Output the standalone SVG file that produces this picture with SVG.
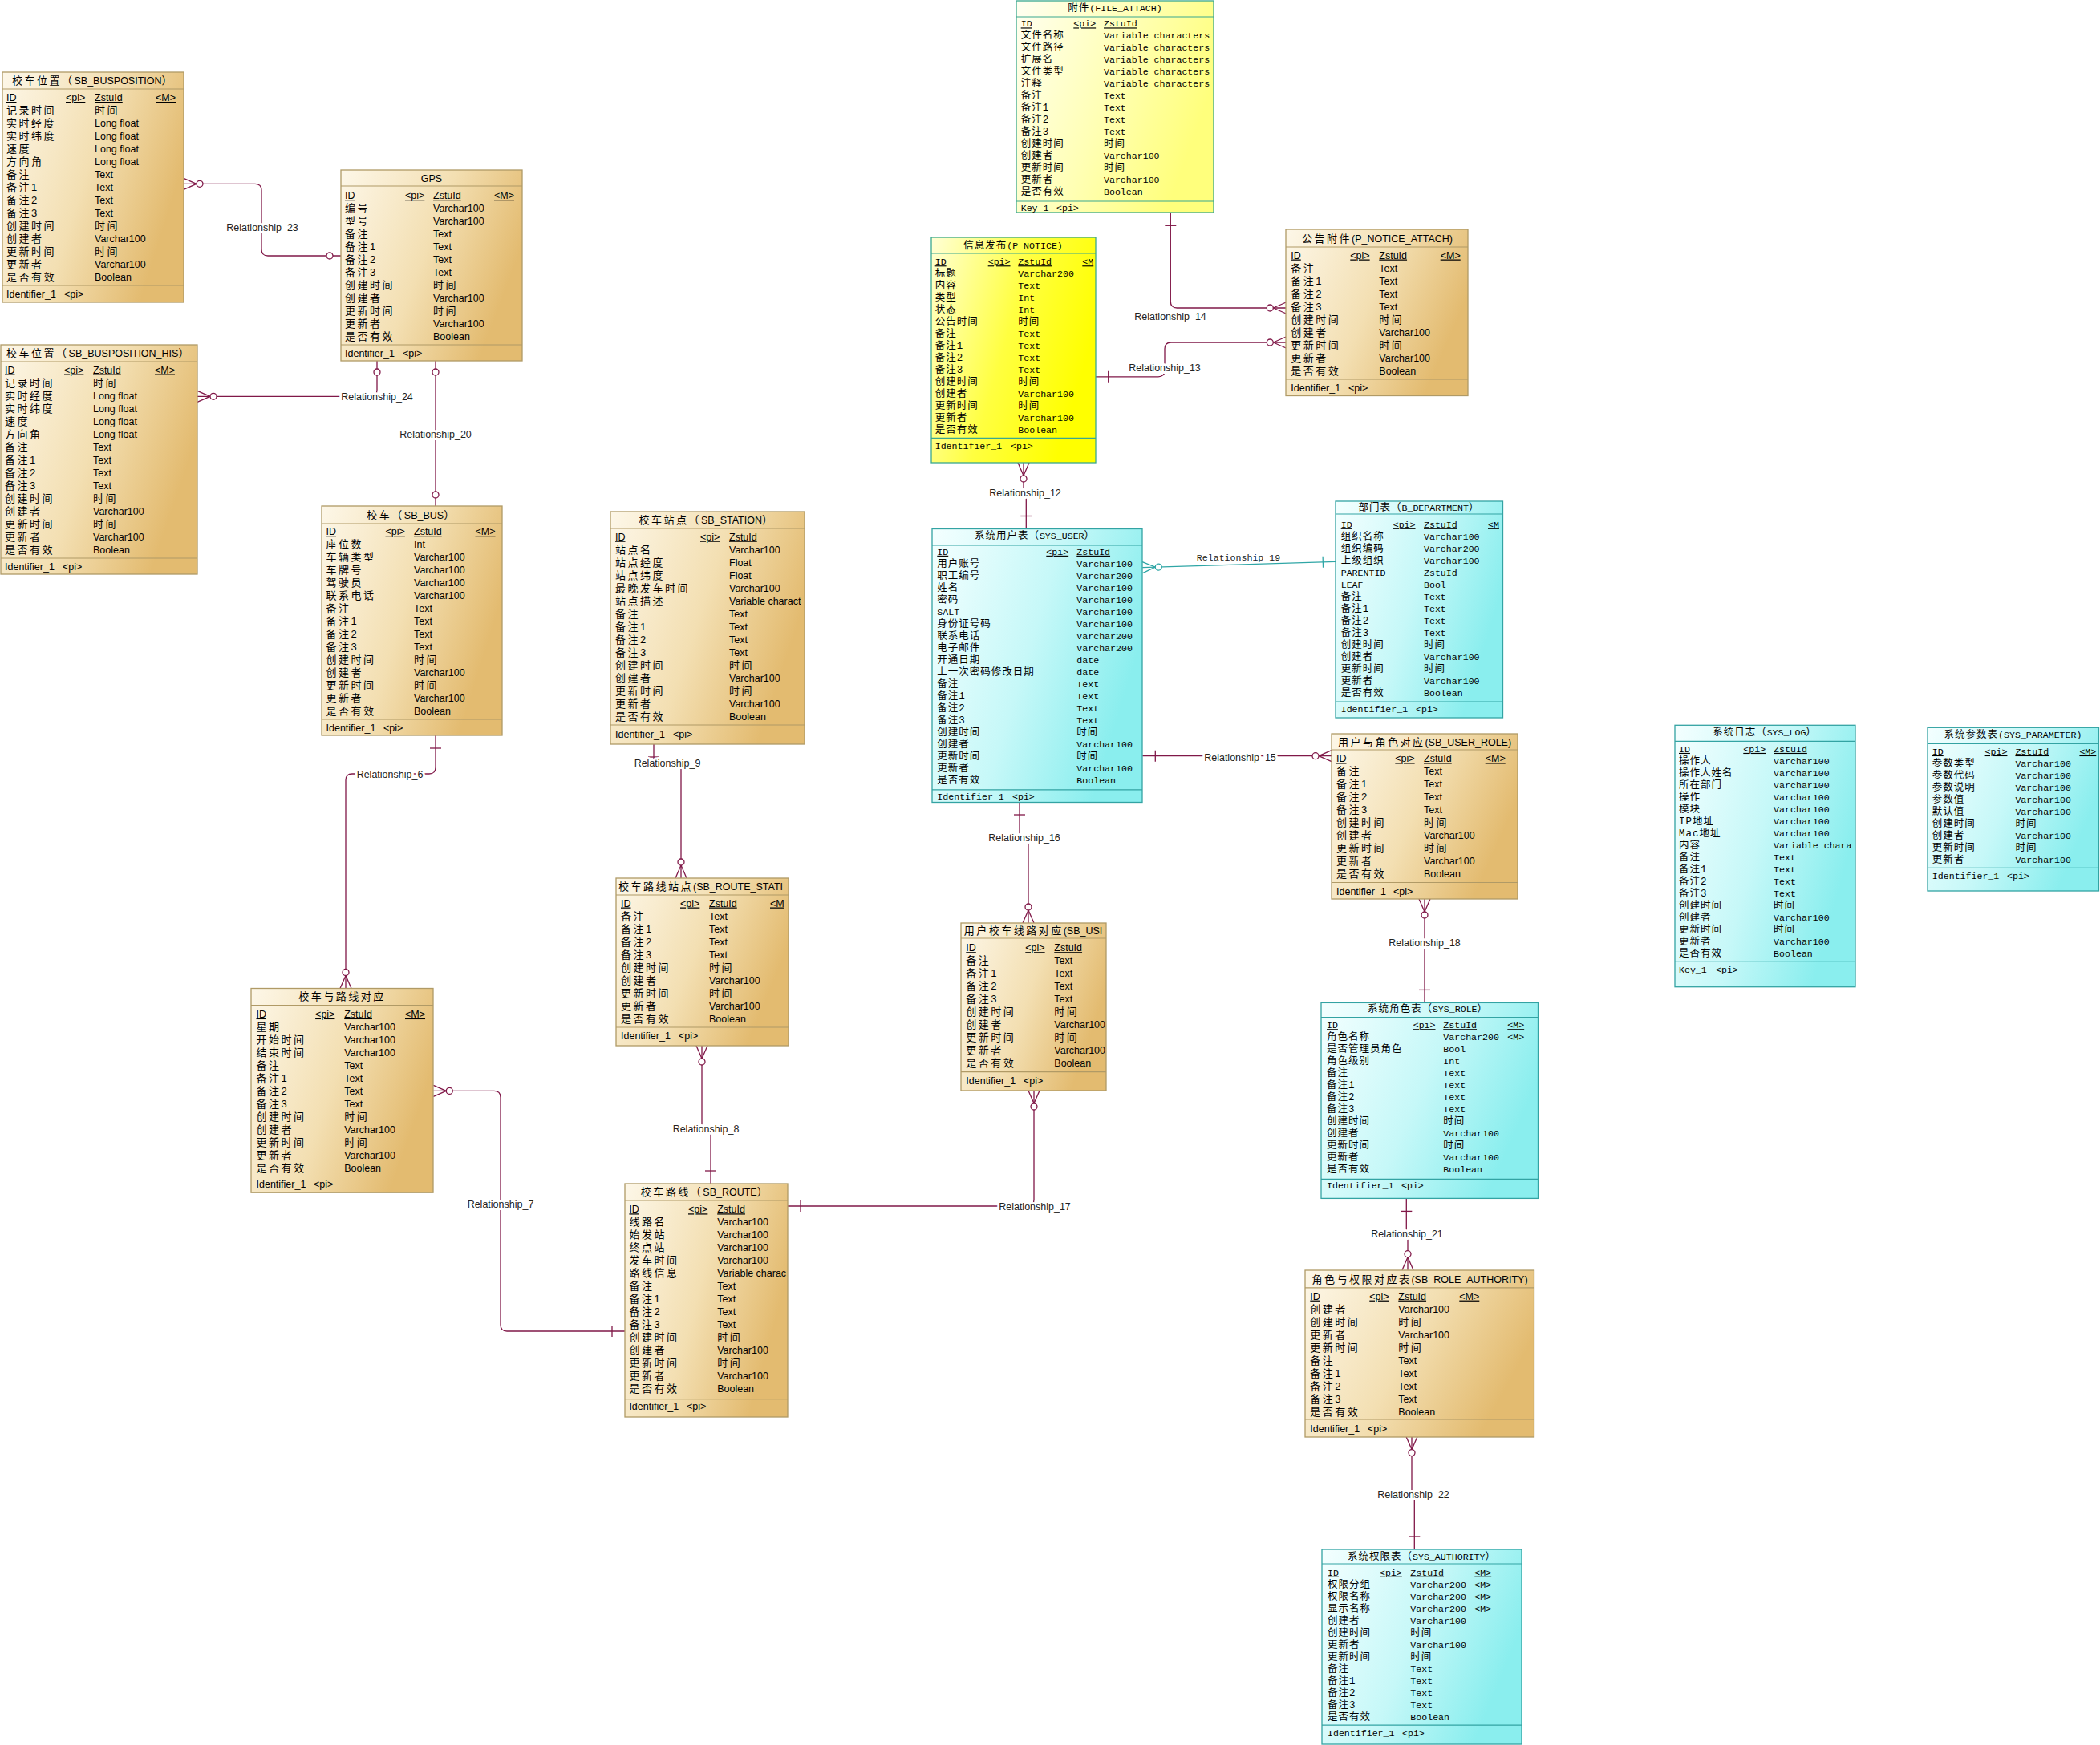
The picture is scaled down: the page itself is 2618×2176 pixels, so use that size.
<svg xmlns="http://www.w3.org/2000/svg" width="2618" height="2176" viewBox="0 0 2618 2176">
<defs>
<style>
.b{font-family:"Liberation Sans","Noto Sans CJK SC",sans-serif;font-size:12.5px;fill:#000}
.m{font-family:"Liberation Mono","Noto Sans CJK SC",monospace;font-size:11.6px;fill:#000}
.b .c{font-size:13px;letter-spacing:2.5px}
.m .c{font-size:12.5px;letter-spacing:1px}
.u{text-decoration:underline}
.tt{text-anchor:middle}
.bx{stroke-width:1.3}
.kb{fill:url(#gb);stroke:#b09a66}
.kc{fill:url(#gc);stroke:#33a3a3}
.ky{fill:url(#gy);stroke:#3aa890}
.kp{fill:url(#gp);stroke:#3aa890}
.sb{fill:none;stroke:#b09a66;stroke-width:1.2}
.sc{fill:none;stroke:#33a3a3;stroke-width:1.2}
.sy{fill:none;stroke:#3aa890;stroke-width:1.2}
.r{fill:none;stroke:#801848;stroke-width:1.3}
.rt{fill:none;stroke:#2fa6a6;stroke-width:1.3}
.rl{font-family:"Liberation Sans",sans-serif;font-size:12.5px;fill:#222;text-anchor:middle;stroke:#fff;stroke-width:6px;stroke-linejoin:round;paint-order:stroke}
.rlm{font-family:"Liberation Mono",monospace;font-size:11.6px;fill:#222;text-anchor:middle}
</style>
<linearGradient id="gb" x1="0" y1="0" x2="1" y2="0.4"><stop offset="0" stop-color="#fdf7e8"/><stop offset="0.55" stop-color="#f3dfb2"/><stop offset="1" stop-color="#e3bb70"/></linearGradient>
<linearGradient id="gc" x1="0" y1="0" x2="1" y2="0.4"><stop offset="0" stop-color="#f4ffff"/><stop offset="0.55" stop-color="#c6f8f8"/><stop offset="1" stop-color="#8aeeee"/></linearGradient>
<linearGradient id="gy" x1="0" y1="0" x2="1" y2="0.4"><stop offset="0" stop-color="#ffffd6"/><stop offset="0.55" stop-color="#ffff40"/><stop offset="1" stop-color="#ffff00"/></linearGradient>
<linearGradient id="gp" x1="0" y1="0" x2="1" y2="0.4"><stop offset="0" stop-color="#fffff2"/><stop offset="0.55" stop-color="#ffffb4"/><stop offset="1" stop-color="#ffff7c"/></linearGradient>
<marker id="mc" viewBox="-30 -10 32 20" refX="0" refY="0" markerWidth="32" markerHeight="20" markerUnits="userSpaceOnUse" orient="auto-start-reverse"><path d="M-16 0L0-7M-16 0L0 7" fill="none" stroke="#801848" stroke-width="1.3"/><circle cx="-20" cy="0" r="4" fill="#fff" stroke="#801848" stroke-width="1.3"/></marker>
<marker id="m1" viewBox="-30 -10 32 20" refX="0" refY="0" markerWidth="32" markerHeight="20" markerUnits="userSpaceOnUse" orient="auto-start-reverse"><path d="M-16-7V7" fill="none" stroke="#801848" stroke-width="1.3"/></marker>
<marker id="m0" viewBox="-30 -10 32 20" refX="0" refY="0" markerWidth="32" markerHeight="20" markerUnits="userSpaceOnUse" orient="auto-start-reverse"><circle cx="-14" cy="0" r="4" fill="#fff" stroke="#801848" stroke-width="1.3"/></marker>
<marker id="mct" viewBox="-30 -10 32 20" refX="0" refY="0" markerWidth="32" markerHeight="20" markerUnits="userSpaceOnUse" orient="auto-start-reverse"><path d="M-16 0L0-7M-16 0L0 7" fill="none" stroke="#2fa6a6" stroke-width="1.3"/><circle cx="-20" cy="0" r="4" fill="#fff" stroke="#2fa6a6" stroke-width="1.3"/></marker>
<marker id="m1t" viewBox="-30 -10 32 20" refX="0" refY="0" markerWidth="32" markerHeight="20" markerUnits="userSpaceOnUse" orient="auto-start-reverse"><path d="M-16-7V7" fill="none" stroke="#2fa6a6" stroke-width="1.3"/></marker>
</defs>
<rect width="2618" height="2176" fill="#fff"/>

<g id="connectors">
<path class="r" marker-start="url(#mc)" marker-end="url(#m0)" d="M229,229.3H318Q326,229.3 326,237.3V311Q326,319 334,319H425"/>
<path class="r" marker-start="url(#mc)" marker-end="url(#m0)" d="M246,494.3H462Q470,494.3 470,486.3V450"/>
<path class="r" marker-start="url(#m0)" marker-end="url(#m0)" d="M543,450V631"/>
<path class="r" marker-start="url(#m1)" marker-end="url(#mc)" d="M543,917V957Q543,965 535,965H439Q431,965 431,973V1232.5"/>
<path class="r" marker-start="url(#mc)" marker-end="url(#m1)" d="M540.3,1360.4H616Q624,1360.4 624,1368.4V1652Q624,1660 632,1660H779"/>
<path class="r" marker-start="url(#mc)" marker-end="url(#m1)" d="M875,1304V1407.7H886V1476"/>
<path class="r" marker-start="url(#m1)" marker-end="url(#mc)" d="M815,928V951H849V1095"/>
<path class="r" marker-start="url(#mc)" marker-end="url(#m1)" d="M1276,577V614.3H1279.3V659.5"/>
<path class="r" marker-start="url(#m1)" marker-end="url(#mc)" d="M1365.7,469.8H1444Q1452,469.8 1452,461.8V435Q1452,427 1460,427H1603.3"/>
<path class="r" marker-start="url(#m1)" marker-end="url(#mc)" d="M1459.3,265.3V376Q1459.3,384 1467.3,384H1603.3"/>
<path class="rt" marker-start="url(#mct)" marker-end="url(#m1t)" d="M1424.3,707.7L1665.3,700.3"/>
<path class="r" marker-start="url(#m1)" marker-end="url(#mc)" d="M1424.3,942.7H1660"/>
<path class="r" marker-start="url(#m1)" marker-end="url(#mc)" d="M1271,1000V1044.5H1282V1151"/>
<path class="r" marker-start="url(#m1)" marker-end="url(#mc)" d="M982,1504H1281Q1289,1504 1289,1496V1360"/>
<path class="r" marker-start="url(#mc)" marker-end="url(#m1)" d="M1776,1121V1250.4"/>
<path class="r" marker-start="url(#m1)" marker-end="url(#mc)" d="M1753.3,1494.4V1538H1755V1583.7"/>
<path class="r" marker-start="url(#mc)" marker-end="url(#m1)" d="M1760,1791.6V1863.3H1763.3V1932"/>
<text class="rl" x="327" y="287.5">Relationship_23</text>
<text class="rl" x="470" y="498.8">Relationship_24</text>
<text class="rl" x="543" y="545.8">Relationship_20</text>
<text class="rl" x="486" y="969.5">Relationship_6</text>
<text class="rl" x="624" y="1505.5">Relationship_7</text>
<text class="rl" x="880" y="1412.2">Relationship_8</text>
<text class="rl" x="832" y="955.5">Relationship_9</text>
<text class="rl" x="1278" y="618.8">Relationship_12</text>
<text class="rl" x="1452" y="463.2">Relationship_13</text>
<text class="rl" x="1459" y="398.9">Relationship_14</text>
<text class="rlm" x="1544" y="699">Relationship_19</text>
<text class="rl" x="1546" y="949">Relationship_15</text>
<text class="rl" x="1277" y="1049">Relationship_16</text>
<text class="rl" x="1290" y="1508.5">Relationship_17</text>
<text class="rl" x="1776" y="1179.7">Relationship_18</text>
<text class="rl" x="1754" y="1542.5">Relationship_21</text>
<text class="rl" x="1762" y="1867.8">Relationship_22</text>
</g>

<g id="t_sb_busposition" transform="translate(3,90)">
<rect class="bx kb" width="226" height="287"/>
<svg class="b" width="226" height="287">
<text class="tt" x="113" y="15"><tspan class="c">校车位置（</tspan>SB_BUSPOSITION<tspan class="c">）</tspan></text>
<text y="36"><tspan x="5" class="u">ID</tspan><tspan x="5" dy="16" class="c">记录时间</tspan><tspan x="5" dy="16" class="c">实时经度</tspan><tspan x="5" dy="16" class="c">实时纬度</tspan><tspan x="5" dy="16" class="c">速度</tspan><tspan x="5" dy="16" class="c">方向角</tspan><tspan x="5" dy="16" class="c">备注</tspan><tspan x="5" dy="16" class="c">备注1</tspan><tspan x="5" dy="16" class="c">备注2</tspan><tspan x="5" dy="16" class="c">备注3</tspan><tspan x="5" dy="16" class="c">创建时间</tspan><tspan x="5" dy="16" class="c">创建者</tspan><tspan x="5" dy="16" class="c">更新时间</tspan><tspan x="5" dy="16" class="c">更新者</tspan><tspan x="5" dy="16" class="c">是否有效</tspan></text>
<text x="79" y="36" class="u">&lt;pi&gt;</text>
<text y="36"><tspan x="115" class="u">ZstuId</tspan><tspan x="115" dy="16" class="c">时间</tspan><tspan x="115" dy="16">Long float</tspan><tspan x="115" dy="16">Long float</tspan><tspan x="115" dy="16">Long float</tspan><tspan x="115" dy="16">Long float</tspan><tspan x="115" dy="16">Text</tspan><tspan x="115" dy="16">Text</tspan><tspan x="115" dy="16">Text</tspan><tspan x="115" dy="16">Text</tspan><tspan x="115" dy="16" class="c">时间</tspan><tspan x="115" dy="16">Varchar100</tspan><tspan x="115" dy="16" class="c">时间</tspan><tspan x="115" dy="16">Varchar100</tspan><tspan x="115" dy="16">Boolean</tspan></text>
<text x="191" y="36" class="u">&lt;M&gt;</text>
<text y="281"><tspan x="5">Identifier_1</tspan><tspan x="77">&lt;pi&gt;</tspan></text>
</svg>
<path class="sb" d="M0 21H226M0 266H226"/>
</g>

<g id="t_gps" transform="translate(425,212)">
<rect class="bx kb" width="226" height="238"/>
<svg class="b" width="226" height="238">
<text class="tt" x="113" y="14.5">GPS</text>
<text y="36"><tspan x="5" class="u">ID</tspan><tspan x="5" dy="16" class="c">编号</tspan><tspan x="5" dy="16" class="c">型号</tspan><tspan x="5" dy="16" class="c">备注</tspan><tspan x="5" dy="16" class="c">备注1</tspan><tspan x="5" dy="16" class="c">备注2</tspan><tspan x="5" dy="16" class="c">备注3</tspan><tspan x="5" dy="16" class="c">创建时间</tspan><tspan x="5" dy="16" class="c">创建者</tspan><tspan x="5" dy="16" class="c">更新时间</tspan><tspan x="5" dy="16" class="c">更新者</tspan><tspan x="5" dy="16" class="c">是否有效</tspan></text>
<text x="80" y="36" class="u">&lt;pi&gt;</text>
<text y="36"><tspan x="115" class="u">ZstuId</tspan><tspan x="115" dy="16">Varchar100</tspan><tspan x="115" dy="16">Varchar100</tspan><tspan x="115" dy="16">Text</tspan><tspan x="115" dy="16">Text</tspan><tspan x="115" dy="16">Text</tspan><tspan x="115" dy="16">Text</tspan><tspan x="115" dy="16" class="c">时间</tspan><tspan x="115" dy="16">Varchar100</tspan><tspan x="115" dy="16" class="c">时间</tspan><tspan x="115" dy="16">Varchar100</tspan><tspan x="115" dy="16">Boolean</tspan></text>
<text x="191" y="36" class="u">&lt;M&gt;</text>
<text y="233"><tspan x="5">Identifier_1</tspan><tspan x="77">&lt;pi&gt;</tspan></text>
</svg>
<path class="sb" d="M0 20H226M0 218H226"/>
</g>

<g id="t_sb_busposition_his" transform="translate(1,430)">
<rect class="bx kb" width="245" height="286"/>
<svg class="b" width="245" height="286">
<text class="tt" x="122" y="15"><tspan class="c">校车位置（</tspan>SB_BUSPOSITION_HIS<tspan class="c">）</tspan></text>
<text y="35.5"><tspan x="5" class="u">ID</tspan><tspan x="5" dy="16" class="c">记录时间</tspan><tspan x="5" dy="16" class="c">实时经度</tspan><tspan x="5" dy="16" class="c">实时纬度</tspan><tspan x="5" dy="16" class="c">速度</tspan><tspan x="5" dy="16" class="c">方向角</tspan><tspan x="5" dy="16" class="c">备注</tspan><tspan x="5" dy="16" class="c">备注1</tspan><tspan x="5" dy="16" class="c">备注2</tspan><tspan x="5" dy="16" class="c">备注3</tspan><tspan x="5" dy="16" class="c">创建时间</tspan><tspan x="5" dy="16" class="c">创建者</tspan><tspan x="5" dy="16" class="c">更新时间</tspan><tspan x="5" dy="16" class="c">更新者</tspan><tspan x="5" dy="16" class="c">是否有效</tspan></text>
<text x="79" y="35.5" class="u">&lt;pi&gt;</text>
<text y="35.5"><tspan x="115" class="u">ZstuId</tspan><tspan x="115" dy="16" class="c">时间</tspan><tspan x="115" dy="16">Long float</tspan><tspan x="115" dy="16">Long float</tspan><tspan x="115" dy="16">Long float</tspan><tspan x="115" dy="16">Long float</tspan><tspan x="115" dy="16">Text</tspan><tspan x="115" dy="16">Text</tspan><tspan x="115" dy="16">Text</tspan><tspan x="115" dy="16">Text</tspan><tspan x="115" dy="16" class="c">时间</tspan><tspan x="115" dy="16">Varchar100</tspan><tspan x="115" dy="16" class="c">时间</tspan><tspan x="115" dy="16">Varchar100</tspan><tspan x="115" dy="16">Boolean</tspan></text>
<text x="192" y="35.5" class="u">&lt;M&gt;</text>
<text y="281"><tspan x="5">Identifier_1</tspan><tspan x="77">&lt;pi&gt;</tspan></text>
</svg>
<path class="sb" d="M0 21H245M0 266H245"/>
</g>

<g id="t_sb_bus" transform="translate(401,631)">
<rect class="bx kb" width="225" height="286"/>
<svg class="b" width="225" height="286">
<text class="tt" x="112" y="15.5"><tspan class="c">校车（</tspan>SB_BUS<tspan class="c">）</tspan></text>
<text y="36"><tspan x="5.5" class="u">ID</tspan><tspan x="5.5" dy="16" class="c">座位数</tspan><tspan x="5.5" dy="16" class="c">车辆类型</tspan><tspan x="5.5" dy="16" class="c">车牌号</tspan><tspan x="5.5" dy="16" class="c">驾驶员</tspan><tspan x="5.5" dy="16" class="c">联系电话</tspan><tspan x="5.5" dy="16" class="c">备注</tspan><tspan x="5.5" dy="16" class="c">备注1</tspan><tspan x="5.5" dy="16" class="c">备注2</tspan><tspan x="5.5" dy="16" class="c">备注3</tspan><tspan x="5.5" dy="16" class="c">创建时间</tspan><tspan x="5.5" dy="16" class="c">创建者</tspan><tspan x="5.5" dy="16" class="c">更新时间</tspan><tspan x="5.5" dy="16" class="c">更新者</tspan><tspan x="5.5" dy="16" class="c">是否有效</tspan></text>
<text x="79.5" y="36" class="u">&lt;pi&gt;</text>
<text y="36"><tspan x="115" class="u">ZstuId</tspan><tspan x="115" dy="16">Int</tspan><tspan x="115" dy="16">Varchar100</tspan><tspan x="115" dy="16">Varchar100</tspan><tspan x="115" dy="16">Varchar100</tspan><tspan x="115" dy="16">Varchar100</tspan><tspan x="115" dy="16">Text</tspan><tspan x="115" dy="16">Text</tspan><tspan x="115" dy="16">Text</tspan><tspan x="115" dy="16">Text</tspan><tspan x="115" dy="16" class="c">时间</tspan><tspan x="115" dy="16">Varchar100</tspan><tspan x="115" dy="16" class="c">时间</tspan><tspan x="115" dy="16">Varchar100</tspan><tspan x="115" dy="16">Boolean</tspan></text>
<text x="191.5" y="36" class="u">&lt;M&gt;</text>
<text y="281"><tspan x="5.5">Identifier_1</tspan><tspan x="77">&lt;pi&gt;</tspan></text>
</svg>
<path class="sb" d="M0 22H225M0 266H225"/>
</g>

<g id="t_sb_station" transform="translate(761,638)">
<rect class="bx kb" width="242" height="290"/>
<svg class="b" width="242" height="290">
<text class="tt" x="120" y="15"><tspan class="c">校车站点（</tspan>SB_STATION<tspan class="c">）</tspan></text>
<text y="35.5"><tspan x="6" class="u">ID</tspan><tspan x="6" dy="16" class="c">站点名</tspan><tspan x="6" dy="16" class="c">站点经度</tspan><tspan x="6" dy="16" class="c">站点纬度</tspan><tspan x="6" dy="16" class="c">最晚发车时间</tspan><tspan x="6" dy="16" class="c">站点描述</tspan><tspan x="6" dy="16" class="c">备注</tspan><tspan x="6" dy="16" class="c">备注1</tspan><tspan x="6" dy="16" class="c">备注2</tspan><tspan x="6" dy="16" class="c">备注3</tspan><tspan x="6" dy="16" class="c">创建时间</tspan><tspan x="6" dy="16" class="c">创建者</tspan><tspan x="6" dy="16" class="c">更新时间</tspan><tspan x="6" dy="16" class="c">更新者</tspan><tspan x="6" dy="16" class="c">是否有效</tspan></text>
<text x="112" y="35.5" class="u">&lt;pi&gt;</text>
<text y="35.5"><tspan x="148" class="u">ZstuId</tspan><tspan x="148" dy="16">Varchar100</tspan><tspan x="148" dy="16">Float</tspan><tspan x="148" dy="16">Float</tspan><tspan x="148" dy="16">Varchar100</tspan><tspan x="148" dy="16">Variable charact</tspan><tspan x="148" dy="16">Text</tspan><tspan x="148" dy="16">Text</tspan><tspan x="148" dy="16">Text</tspan><tspan x="148" dy="16">Text</tspan><tspan x="148" dy="16" class="c">时间</tspan><tspan x="148" dy="16">Varchar100</tspan><tspan x="148" dy="16" class="c">时间</tspan><tspan x="148" dy="16">Varchar100</tspan><tspan x="148" dy="16">Boolean</tspan></text>
<text y="281.5"><tspan x="6">Identifier_1</tspan><tspan x="78">&lt;pi&gt;</tspan></text>
</svg>
<path class="sb" d="M0 21H242M0 266H242"/>
</g>

<g id="t_sb_route_station" transform="translate(768,1095)">
<rect class="bx kb" width="215" height="209"/>
<svg class="b" width="215" height="209">
<text x="3" y="14.5"><tspan class="c">校车路线站点</tspan>(SB_ROUTE_STATI</text>
<text y="35.5"><tspan x="6" class="u">ID</tspan><tspan x="6" dy="16" class="c">备注</tspan><tspan x="6" dy="16" class="c">备注1</tspan><tspan x="6" dy="16" class="c">备注2</tspan><tspan x="6" dy="16" class="c">备注3</tspan><tspan x="6" dy="16" class="c">创建时间</tspan><tspan x="6" dy="16" class="c">创建者</tspan><tspan x="6" dy="16" class="c">更新时间</tspan><tspan x="6" dy="16" class="c">更新者</tspan><tspan x="6" dy="16" class="c">是否有效</tspan></text>
<text x="80" y="35.5" class="u">&lt;pi&gt;</text>
<text y="35.5"><tspan x="116" class="u">ZstuId</tspan><tspan x="116" dy="16">Text</tspan><tspan x="116" dy="16">Text</tspan><tspan x="116" dy="16">Text</tspan><tspan x="116" dy="16">Text</tspan><tspan x="116" dy="16" class="c">时间</tspan><tspan x="116" dy="16">Varchar100</tspan><tspan x="116" dy="16" class="c">时间</tspan><tspan x="116" dy="16">Varchar100</tspan><tspan x="116" dy="16">Boolean</tspan></text>
<text x="192" y="35.5" class="u">&lt;M</text>
<text y="201"><tspan x="6">Identifier_1</tspan><tspan x="78">&lt;pi&gt;</tspan></text>
</svg>
<path class="sb" d="M0 21H215M0 186H215"/>
</g>

<g id="t_file_attach" transform="translate(1267,1)">
<rect class="bx kp" width="246" height="264"/>
<svg class="m" width="246" height="264">
<text class="tt" x="123" y="12.8"><tspan class="c">附件</tspan>(FILE_ATTACH)</text>
<text y="32.4"><tspan x="5.7" class="u">ID</tspan><tspan x="5.7" dy="15" class="c">文件名称</tspan><tspan x="5.7" dy="15" class="c">文件路径</tspan><tspan x="5.7" dy="15" class="c">扩展名</tspan><tspan x="5.7" dy="15" class="c">文件类型</tspan><tspan x="5.7" dy="15" class="c">注释</tspan><tspan x="5.7" dy="15" class="c">备注</tspan><tspan x="5.7" dy="15" class="c">备注1</tspan><tspan x="5.7" dy="15" class="c">备注2</tspan><tspan x="5.7" dy="15" class="c">备注3</tspan><tspan x="5.7" dy="15" class="c">创建时间</tspan><tspan x="5.7" dy="15" class="c">创建者</tspan><tspan x="5.7" dy="15" class="c">更新时间</tspan><tspan x="5.7" dy="15" class="c">更新者</tspan><tspan x="5.7" dy="15" class="c">是否有效</tspan></text>
<text x="71.3" y="32.4" class="u">&lt;pi&gt;</text>
<text y="32.4"><tspan x="109" class="u">ZstuId</tspan><tspan x="109" dy="15">Variable characters</tspan><tspan x="109" dy="15">Variable characters</tspan><tspan x="109" dy="15">Variable characters</tspan><tspan x="109" dy="15">Variable characters</tspan><tspan x="109" dy="15">Variable characters</tspan><tspan x="109" dy="15">Text</tspan><tspan x="109" dy="15">Text</tspan><tspan x="109" dy="15">Text</tspan><tspan x="109" dy="15">Text</tspan><tspan x="109" dy="15" class="c">时间</tspan><tspan x="109" dy="15">Varchar100</tspan><tspan x="109" dy="15" class="c">时间</tspan><tspan x="109" dy="15">Varchar100</tspan><tspan x="109" dy="15">Boolean</tspan></text>
<text y="261.5"><tspan x="5.7">Key 1</tspan><tspan x="50">&lt;pi&gt;</tspan></text>
</svg>
<path class="sy" d="M0 20H246M0 250H246"/>
</g>

<g id="t_p_notice" transform="translate(1161,296)">
<rect class="bx ky" width="205" height="281"/>
<svg class="m" width="205" height="281">
<text class="tt" x="102" y="13.8"><tspan class="c">信息发布</tspan>(P_NOTICE)</text>
<text y="34.2"><tspan x="4.7" class="u">ID</tspan><tspan x="4.7" dy="15" class="c">标题</tspan><tspan x="4.7" dy="15" class="c">内容</tspan><tspan x="4.7" dy="15" class="c">类型</tspan><tspan x="4.7" dy="15" class="c">状态</tspan><tspan x="4.7" dy="15" class="c">公告时间</tspan><tspan x="4.7" dy="15" class="c">备注</tspan><tspan x="4.7" dy="15" class="c">备注1</tspan><tspan x="4.7" dy="15" class="c">备注2</tspan><tspan x="4.7" dy="15" class="c">备注3</tspan><tspan x="4.7" dy="15" class="c">创建时间</tspan><tspan x="4.7" dy="15" class="c">创建者</tspan><tspan x="4.7" dy="15" class="c">更新时间</tspan><tspan x="4.7" dy="15" class="c">更新者</tspan><tspan x="4.7" dy="15" class="c">是否有效</tspan></text>
<text x="70.7" y="34.2" class="u">&lt;pi&gt;</text>
<text y="34.2"><tspan x="108.3" class="u">ZstuId</tspan><tspan x="108.3" dy="15">Varchar200</tspan><tspan x="108.3" dy="15">Text</tspan><tspan x="108.3" dy="15">Int</tspan><tspan x="108.3" dy="15">Int</tspan><tspan x="108.3" dy="15" class="c">时间</tspan><tspan x="108.3" dy="15">Text</tspan><tspan x="108.3" dy="15">Text</tspan><tspan x="108.3" dy="15">Text</tspan><tspan x="108.3" dy="15">Text</tspan><tspan x="108.3" dy="15" class="c">时间</tspan><tspan x="108.3" dy="15">Varchar100</tspan><tspan x="108.3" dy="15" class="c">时间</tspan><tspan x="108.3" dy="15">Varchar100</tspan><tspan x="108.3" dy="15">Boolean</tspan></text>
<text x="188.3" y="34.2" class="u">&lt;M</text>
<text y="263.9"><tspan x="4.7">Identifier_1</tspan><tspan x="99">&lt;pi&gt;</tspan></text>
</svg>
<path class="sy" d="M0 20H205M0 250.4H205"/>
</g>

<g id="t_p_notice_attach" transform="translate(1603,286)">
<rect class="bx kb" width="227" height="207.5"/>
<svg class="b" width="227" height="207.5">
<text class="tt" x="114" y="15.5"><tspan class="c">公告附件</tspan>(P_NOTICE_ATTACH)</text>
<text y="36.5"><tspan x="6.3" class="u">ID</tspan><tspan x="6.3" dy="16" class="c">备注</tspan><tspan x="6.3" dy="16" class="c">备注1</tspan><tspan x="6.3" dy="16" class="c">备注2</tspan><tspan x="6.3" dy="16" class="c">备注3</tspan><tspan x="6.3" dy="16" class="c">创建时间</tspan><tspan x="6.3" dy="16" class="c">创建者</tspan><tspan x="6.3" dy="16" class="c">更新时间</tspan><tspan x="6.3" dy="16" class="c">更新者</tspan><tspan x="6.3" dy="16" class="c">是否有效</tspan></text>
<text x="80.3" y="36.5" class="u">&lt;pi&gt;</text>
<text y="36.5"><tspan x="116.3" class="u">ZstuId</tspan><tspan x="116.3" dy="16">Text</tspan><tspan x="116.3" dy="16">Text</tspan><tspan x="116.3" dy="16">Text</tspan><tspan x="116.3" dy="16">Text</tspan><tspan x="116.3" dy="16" class="c">时间</tspan><tspan x="116.3" dy="16">Varchar100</tspan><tspan x="116.3" dy="16" class="c">时间</tspan><tspan x="116.3" dy="16">Varchar100</tspan><tspan x="116.3" dy="16">Boolean</tspan></text>
<text x="192.7" y="36.5" class="u">&lt;M&gt;</text>
<text y="202"><tspan x="6.3">Identifier_1</tspan><tspan x="78">&lt;pi&gt;</tspan></text>
</svg>
<path class="sb" d="M0 22H227M0 187H227"/>
</g>

<g id="t_b_department" transform="translate(1665,625)">
<rect class="bx kc" width="208.5" height="270"/>
<svg class="m" width="208.5" height="270">
<text class="tt" x="104" y="12.4"><tspan class="c">部门表（</tspan>B_DEPARTMENT<tspan class="c">）</tspan></text>
<text y="32.7"><tspan x="6.7" class="u">ID</tspan><tspan x="6.7" dy="15" class="c">组织名称</tspan><tspan x="6.7" dy="15" class="c">组织编码</tspan><tspan x="6.7" dy="15" class="c">上级组织</tspan><tspan x="6.7" dy="15">PARENTID</tspan><tspan x="6.7" dy="15">LEAF</tspan><tspan x="6.7" dy="15" class="c">备注</tspan><tspan x="6.7" dy="15" class="c">备注1</tspan><tspan x="6.7" dy="15" class="c">备注2</tspan><tspan x="6.7" dy="15" class="c">备注3</tspan><tspan x="6.7" dy="15" class="c">创建时间</tspan><tspan x="6.7" dy="15" class="c">创建者</tspan><tspan x="6.7" dy="15" class="c">更新时间</tspan><tspan x="6.7" dy="15" class="c">更新者</tspan><tspan x="6.7" dy="15" class="c">是否有效</tspan></text>
<text x="71.7" y="32.7" class="u">&lt;pi&gt;</text>
<text y="32.7"><tspan x="110" class="u">ZstuId</tspan><tspan x="110" dy="15">Varchar100</tspan><tspan x="110" dy="15">Varchar200</tspan><tspan x="110" dy="15">Varchar100</tspan><tspan x="110" dy="15">ZstuId</tspan><tspan x="110" dy="15">Bool</tspan><tspan x="110" dy="15">Text</tspan><tspan x="110" dy="15">Text</tspan><tspan x="110" dy="15">Text</tspan><tspan x="110" dy="15">Text</tspan><tspan x="110" dy="15" class="c">时间</tspan><tspan x="110" dy="15">Varchar100</tspan><tspan x="110" dy="15" class="c">时间</tspan><tspan x="110" dy="15">Varchar100</tspan><tspan x="110" dy="15">Boolean</tspan></text>
<text x="190" y="32.7" class="u">&lt;M</text>
<text y="262.8"><tspan x="6.7">Identifier_1</tspan><tspan x="100">&lt;pi&gt;</tspan></text>
</svg>
<path class="sc" d="M0 16H208.5M0 250H208.5"/>
</g>

<g id="t_sys_user" transform="translate(1162,659.5)">
<rect class="bx kc" width="262" height="341"/>
<svg class="m" width="262" height="341">
<text class="tt" x="128" y="12.7"><tspan class="c">系统用户表（</tspan>SYS_USER<tspan class="c">）</tspan></text>
<text y="32.3"><tspan x="6.3" class="u">ID</tspan><tspan x="6.3" dy="15" class="c">用户账号</tspan><tspan x="6.3" dy="15" class="c">职工编号</tspan><tspan x="6.3" dy="15" class="c">姓名</tspan><tspan x="6.3" dy="15" class="c">密码</tspan><tspan x="6.3" dy="15">SALT</tspan><tspan x="6.3" dy="15" class="c">身份证号码</tspan><tspan x="6.3" dy="15" class="c">联系电话</tspan><tspan x="6.3" dy="15" class="c">电子邮件</tspan><tspan x="6.3" dy="15" class="c">开通日期</tspan><tspan x="6.3" dy="15" class="c">上一次密码修改日期</tspan><tspan x="6.3" dy="15" class="c">备注</tspan><tspan x="6.3" dy="15" class="c">备注1</tspan><tspan x="6.3" dy="15" class="c">备注2</tspan><tspan x="6.3" dy="15" class="c">备注3</tspan><tspan x="6.3" dy="15" class="c">创建时间</tspan><tspan x="6.3" dy="15" class="c">创建者</tspan><tspan x="6.3" dy="15" class="c">更新时间</tspan><tspan x="6.3" dy="15" class="c">更新者</tspan><tspan x="6.3" dy="15" class="c">是否有效</tspan></text>
<text x="142.3" y="32.3" class="u">&lt;pi&gt;</text>
<text y="32.3"><tspan x="180.3" class="u">ZstuId</tspan><tspan x="180.3" dy="15">Varchar100</tspan><tspan x="180.3" dy="15">Varchar200</tspan><tspan x="180.3" dy="15">Varchar100</tspan><tspan x="180.3" dy="15">Varchar100</tspan><tspan x="180.3" dy="15">Varchar100</tspan><tspan x="180.3" dy="15">Varchar100</tspan><tspan x="180.3" dy="15">Varchar200</tspan><tspan x="180.3" dy="15">Varchar200</tspan><tspan x="180.3" dy="15">date</tspan><tspan x="180.3" dy="15">date</tspan><tspan x="180.3" dy="15">Text</tspan><tspan x="180.3" dy="15">Text</tspan><tspan x="180.3" dy="15">Text</tspan><tspan x="180.3" dy="15">Text</tspan><tspan x="180.3" dy="15" class="c">时间</tspan><tspan x="180.3" dy="15">Varchar100</tspan><tspan x="180.3" dy="15" class="c">时间</tspan><tspan x="180.3" dy="15">Varchar100</tspan><tspan x="180.3" dy="15">Boolean</tspan></text>
<text y="337"><tspan x="6.3">Identifier 1</tspan><tspan x="100">&lt;pi&gt;</tspan></text>
</svg>
<path class="sc" d="M0 20.4H262M0 325.4H262"/>
</g>

<g id="t_sb_user_role" transform="translate(1660,915)">
<rect class="bx kb" width="232" height="206"/>
<svg class="b" width="232" height="206">
<text class="tt" x="116" y="14.8"><tspan class="c">用户与角色对应</tspan>(SB_USER_ROLE)</text>
<text y="35.3"><tspan x="6" class="u">ID</tspan><tspan x="6" dy="16" class="c">备注</tspan><tspan x="6" dy="16" class="c">备注1</tspan><tspan x="6" dy="16" class="c">备注2</tspan><tspan x="6" dy="16" class="c">备注3</tspan><tspan x="6" dy="16" class="c">创建时间</tspan><tspan x="6" dy="16" class="c">创建者</tspan><tspan x="6" dy="16" class="c">更新时间</tspan><tspan x="6" dy="16" class="c">更新者</tspan><tspan x="6" dy="16" class="c">是否有效</tspan></text>
<text x="79.3" y="35.3" class="u">&lt;pi&gt;</text>
<text y="35.3"><tspan x="115" class="u">ZstuId</tspan><tspan x="115" dy="16">Text</tspan><tspan x="115" dy="16">Text</tspan><tspan x="115" dy="16">Text</tspan><tspan x="115" dy="16">Text</tspan><tspan x="115" dy="16" class="c">时间</tspan><tspan x="115" dy="16">Varchar100</tspan><tspan x="115" dy="16" class="c">时间</tspan><tspan x="115" dy="16">Varchar100</tspan><tspan x="115" dy="16">Boolean</tspan></text>
<text x="191.7" y="35.3" class="u">&lt;M&gt;</text>
<text y="200.7"><tspan x="6">Identifier_1</tspan><tspan x="77">&lt;pi&gt;</tspan></text>
</svg>
<path class="sb" d="M0 20H232M0 185.5H232"/>
</g>

<g id="t_sb_user_route" transform="translate(1198,1151)">
<rect class="bx kb" width="181" height="209"/>
<svg class="b" width="181" height="209">
<text x="3.7" y="13.8"><tspan class="c">用户校车线路对应</tspan>(SB_USI</text>
<text y="35.2"><tspan x="6.3" class="u">ID</tspan><tspan x="6.3" dy="16" class="c">备注</tspan><tspan x="6.3" dy="16" class="c">备注1</tspan><tspan x="6.3" dy="16" class="c">备注2</tspan><tspan x="6.3" dy="16" class="c">备注3</tspan><tspan x="6.3" dy="16" class="c">创建时间</tspan><tspan x="6.3" dy="16" class="c">创建者</tspan><tspan x="6.3" dy="16" class="c">更新时间</tspan><tspan x="6.3" dy="16" class="c">更新者</tspan><tspan x="6.3" dy="16" class="c">是否有效</tspan></text>
<text x="80.3" y="35.2" class="u">&lt;pi&gt;</text>
<text y="35.2"><tspan x="116.3" class="u">ZstuId</tspan><tspan x="116.3" dy="16">Text</tspan><tspan x="116.3" dy="16">Text</tspan><tspan x="116.3" dy="16">Text</tspan><tspan x="116.3" dy="16">Text</tspan><tspan x="116.3" dy="16" class="c">时间</tspan><tspan x="116.3" dy="16">Varchar100</tspan><tspan x="116.3" dy="16" class="c">时间</tspan><tspan x="116.3" dy="16">Varchar100</tspan><tspan x="116.3" dy="16">Boolean</tspan></text>
<text y="200.5"><tspan x="6.3">Identifier_1</tspan><tspan x="78">&lt;pi&gt;</tspan></text>
</svg>
<path class="sb" d="M0 19H181M0 185.6H181"/>
</g>

<g id="t_sys_log" transform="translate(2088,904.3)">
<rect class="bx kc" width="225" height="326.4"/>
<svg class="m" width="225" height="326.4">
<text class="tt" x="112" y="13.2"><tspan class="c">系统日志（</tspan>SYS_LOG<tspan class="c">）</tspan></text>
<text y="33.6"><tspan x="5" class="u">ID</tspan><tspan x="5" dy="15" class="c">操作人</tspan><tspan x="5" dy="15" class="c">操作人姓名</tspan><tspan x="5" dy="15" class="c">所在部门</tspan><tspan x="5" dy="15" class="c">操作</tspan><tspan x="5" dy="15" class="c">模块</tspan><tspan x="5" dy="15" class="c">IP地址</tspan><tspan x="5" dy="15" class="c">Mac地址</tspan><tspan x="5" dy="15" class="c">内容</tspan><tspan x="5" dy="15" class="c">备注</tspan><tspan x="5" dy="15" class="c">备注1</tspan><tspan x="5" dy="15" class="c">备注2</tspan><tspan x="5" dy="15" class="c">备注3</tspan><tspan x="5" dy="15" class="c">创建时间</tspan><tspan x="5" dy="15" class="c">创建者</tspan><tspan x="5" dy="15" class="c">更新时间</tspan><tspan x="5" dy="15" class="c">更新者</tspan><tspan x="5" dy="15" class="c">是否有效</tspan></text>
<text x="85.3" y="33.6" class="u">&lt;pi&gt;</text>
<text y="33.6"><tspan x="123.1" class="u">ZstuId</tspan><tspan x="123.1" dy="15">Varchar100</tspan><tspan x="123.1" dy="15">Varchar100</tspan><tspan x="123.1" dy="15">Varchar100</tspan><tspan x="123.1" dy="15">Varchar100</tspan><tspan x="123.1" dy="15">Varchar100</tspan><tspan x="123.1" dy="15">Varchar100</tspan><tspan x="123.1" dy="15">Varchar100</tspan><tspan x="123.1" dy="15">Variable chara</tspan><tspan x="123.1" dy="15">Text</tspan><tspan x="123.1" dy="15">Text</tspan><tspan x="123.1" dy="15">Text</tspan><tspan x="123.1" dy="15">Text</tspan><tspan x="123.1" dy="15" class="c">时间</tspan><tspan x="123.1" dy="15">Varchar100</tspan><tspan x="123.1" dy="15" class="c">时间</tspan><tspan x="123.1" dy="15">Varchar100</tspan><tspan x="123.1" dy="15">Boolean</tspan></text>
<text y="309.2"><tspan x="5">Key_1</tspan><tspan x="51">&lt;pi&gt;</tspan></text>
</svg>
<path class="sc" d="M0 20H225M0 295H225"/>
</g>

<g id="t_sys_parameter" transform="translate(2403,907.3)">
<rect class="bx kc" width="213.5" height="203.7"/>
<svg class="m" width="213.5" height="203.7">
<text class="tt" x="106.5" y="12.9"><tspan class="c">系统参数表</tspan>(SYS_PARAMETER)</text>
<text y="33.6"><tspan x="5.8" class="u">ID</tspan><tspan x="5.8" dy="15" class="c">参数类型</tspan><tspan x="5.8" dy="15" class="c">参数代码</tspan><tspan x="5.8" dy="15" class="c">参数说明</tspan><tspan x="5.8" dy="15" class="c">参数值</tspan><tspan x="5.8" dy="15" class="c">默认值</tspan><tspan x="5.8" dy="15" class="c">创建时间</tspan><tspan x="5.8" dy="15" class="c">创建者</tspan><tspan x="5.8" dy="15" class="c">更新时间</tspan><tspan x="5.8" dy="15" class="c">更新者</tspan></text>
<text x="71.6" y="33.6" class="u">&lt;pi&gt;</text>
<text y="33.6"><tspan x="109.4" class="u">ZstuId</tspan><tspan x="109.4" dy="15">Varchar100</tspan><tspan x="109.4" dy="15">Varchar100</tspan><tspan x="109.4" dy="15">Varchar100</tspan><tspan x="109.4" dy="15">Varchar100</tspan><tspan x="109.4" dy="15">Varchar100</tspan><tspan x="109.4" dy="15" class="c">时间</tspan><tspan x="109.4" dy="15">Varchar100</tspan><tspan x="109.4" dy="15" class="c">时间</tspan><tspan x="109.4" dy="15">Varchar100</tspan></text>
<text x="189.4" y="33.6" class="u">&lt;M&gt;</text>
<text y="188.9"><tspan x="5.8">Identifier_1</tspan><tspan x="99">&lt;pi&gt;</tspan></text>
</svg>
<path class="sc" d="M0 20H213.5M0 175H213.5"/>
</g>

<g id="t_bus_route_map" transform="translate(313,1232.5)">
<rect class="bx kb" width="227" height="254.7"/>
<svg class="b" width="227" height="254.7">
<text class="tt" x="113.5" y="14.5" ><tspan class="c">校车与路线对应</tspan></text>
<text y="36.3"><tspan x="6.5" class="u">ID</tspan><tspan x="6.5" dy="16" class="c">星期</tspan><tspan x="6.5" dy="16" class="c">开始时间</tspan><tspan x="6.5" dy="16" class="c">结束时间</tspan><tspan x="6.5" dy="16" class="c">备注</tspan><tspan x="6.5" dy="16" class="c">备注1</tspan><tspan x="6.5" dy="16" class="c">备注2</tspan><tspan x="6.5" dy="16" class="c">备注3</tspan><tspan x="6.5" dy="16" class="c">创建时间</tspan><tspan x="6.5" dy="16" class="c">创建者</tspan><tspan x="6.5" dy="16" class="c">更新时间</tspan><tspan x="6.5" dy="16" class="c">更新者</tspan><tspan x="6.5" dy="16" class="c">是否有效</tspan></text>
<text x="80.1" y="36.3" class="u">&lt;pi&gt;</text>
<text y="36.3"><tspan x="116.2" class="u">ZstuId</tspan><tspan x="116.2" dy="16">Varchar100</tspan><tspan x="116.2" dy="16">Varchar100</tspan><tspan x="116.2" dy="16">Varchar100</tspan><tspan x="116.2" dy="16">Text</tspan><tspan x="116.2" dy="16">Text</tspan><tspan x="116.2" dy="16">Text</tspan><tspan x="116.2" dy="16">Text</tspan><tspan x="116.2" dy="16" class="c">时间</tspan><tspan x="116.2" dy="16">Varchar100</tspan><tspan x="116.2" dy="16" class="c">时间</tspan><tspan x="116.2" dy="16">Varchar100</tspan><tspan x="116.2" dy="16">Boolean</tspan></text>
<text x="192" y="36.3" class="u">&lt;M&gt;</text>
<text y="248.9"><tspan x="6.5">Identifier_1</tspan><tspan x="78">&lt;pi&gt;</tspan></text>
</svg>
<path class="sb" d="M0 21H227M0 234H227"/>
</g>

<g id="t_sb_route" transform="translate(779,1476)">
<rect class="bx kb" width="203" height="291"/>
<svg class="b" width="203" height="291">
<text class="tt" x="100" y="14.9"><tspan class="c">校车路线（</tspan>SB_ROUTE<tspan class="c">）</tspan></text>
<text y="36.3"><tspan x="5.4" class="u">ID</tspan><tspan x="5.4" dy="16" class="c">线路名</tspan><tspan x="5.4" dy="16" class="c">始发站</tspan><tspan x="5.4" dy="16" class="c">终点站</tspan><tspan x="5.4" dy="16" class="c">发车时间</tspan><tspan x="5.4" dy="16" class="c">路线信息</tspan><tspan x="5.4" dy="16" class="c">备注</tspan><tspan x="5.4" dy="16" class="c">备注1</tspan><tspan x="5.4" dy="16" class="c">备注2</tspan><tspan x="5.4" dy="16" class="c">备注3</tspan><tspan x="5.4" dy="16" class="c">创建时间</tspan><tspan x="5.4" dy="16" class="c">创建者</tspan><tspan x="5.4" dy="16" class="c">更新时间</tspan><tspan x="5.4" dy="16" class="c">更新者</tspan><tspan x="5.4" dy="16" class="c">是否有效</tspan></text>
<text x="79" y="36.3" class="u">&lt;pi&gt;</text>
<text y="36.3"><tspan x="115.2" class="u">ZstuId</tspan><tspan x="115.2" dy="16">Varchar100</tspan><tspan x="115.2" dy="16">Varchar100</tspan><tspan x="115.2" dy="16">Varchar100</tspan><tspan x="115.2" dy="16">Varchar100</tspan><tspan x="115.2" dy="16">Variable charac</tspan><tspan x="115.2" dy="16">Text</tspan><tspan x="115.2" dy="16">Text</tspan><tspan x="115.2" dy="16">Text</tspan><tspan x="115.2" dy="16">Text</tspan><tspan x="115.2" dy="16" class="c">时间</tspan><tspan x="115.2" dy="16">Varchar100</tspan><tspan x="115.2" dy="16" class="c">时间</tspan><tspan x="115.2" dy="16">Varchar100</tspan><tspan x="115.2" dy="16">Boolean</tspan></text>
<text y="281.7"><tspan x="5.4">Identifier_1</tspan><tspan x="77">&lt;pi&gt;</tspan></text>
</svg>
<path class="sb" d="M0 21H203M0 268.6H203"/>
</g>

<g id="t_sys_role" transform="translate(1647,1250.4)">
<rect class="bx kc" width="270.5" height="244"/>
<svg class="m" width="270.5" height="244">
<text class="tt" x="133" y="12"><tspan class="c">系统角色表（</tspan>SYS_ROLE<tspan class="c">）</tspan></text>
<text y="31.8"><tspan x="7" class="u">ID</tspan><tspan x="7" dy="15" class="c">角色名称</tspan><tspan x="7" dy="15" class="c">是否管理员角色</tspan><tspan x="7" dy="15" class="c">角色级别</tspan><tspan x="7" dy="15" class="c">备注</tspan><tspan x="7" dy="15" class="c">备注1</tspan><tspan x="7" dy="15" class="c">备注2</tspan><tspan x="7" dy="15" class="c">备注3</tspan><tspan x="7" dy="15" class="c">创建时间</tspan><tspan x="7" dy="15" class="c">创建者</tspan><tspan x="7" dy="15" class="c">更新时间</tspan><tspan x="7" dy="15" class="c">更新者</tspan><tspan x="7" dy="15" class="c">是否有效</tspan></text>
<text x="114.7" y="31.8" class="u">&lt;pi&gt;</text>
<text y="31.8"><tspan x="152.3" class="u">ZstuId</tspan><tspan x="152.3" dy="15">Varchar200</tspan><tspan x="152.3" dy="15">Bool</tspan><tspan x="152.3" dy="15">Int</tspan><tspan x="152.3" dy="15">Text</tspan><tspan x="152.3" dy="15">Text</tspan><tspan x="152.3" dy="15">Text</tspan><tspan x="152.3" dy="15">Text</tspan><tspan x="152.3" dy="15" class="c">时间</tspan><tspan x="152.3" dy="15">Varchar100</tspan><tspan x="152.3" dy="15" class="c">时间</tspan><tspan x="152.3" dy="15">Varchar100</tspan><tspan x="152.3" dy="15">Boolean</tspan></text>
<text y="31.8"><tspan x="232.3" class="u">&lt;M&gt;</tspan><tspan x="232.3" dy="15">&lt;M&gt;</tspan></text>
<text y="231.8"><tspan x="7">Identifier_1</tspan><tspan x="100">&lt;pi&gt;</tspan></text>
</svg>
<path class="sc" d="M0 18.2H270.5M0 220H270.5"/>
</g>

<g id="t_sb_role_authority" transform="translate(1627,1584)">
<rect class="bx kb" width="285.5" height="208"/>
<svg class="b" width="285.5" height="208">
<text class="tt" x="143" y="16"><tspan class="c">角色与权限对应表</tspan>(SB_ROLE_AUTHORITY)</text>
<text y="36.6"><tspan x="6.3" class="u">ID</tspan><tspan x="6.3" dy="16" class="c">创建者</tspan><tspan x="6.3" dy="16" class="c">创建时间</tspan><tspan x="6.3" dy="16" class="c">更新者</tspan><tspan x="6.3" dy="16" class="c">更新时间</tspan><tspan x="6.3" dy="16" class="c">备注</tspan><tspan x="6.3" dy="16" class="c">备注1</tspan><tspan x="6.3" dy="16" class="c">备注2</tspan><tspan x="6.3" dy="16" class="c">备注3</tspan><tspan x="6.3" dy="16" class="c">是否有效</tspan></text>
<text x="80.3" y="36.6" class="u">&lt;pi&gt;</text>
<text y="36.6"><tspan x="116.3" class="u">ZstuId</tspan><tspan x="116.3" dy="16">Varchar100</tspan><tspan x="116.3" dy="16" class="c">时间</tspan><tspan x="116.3" dy="16">Varchar100</tspan><tspan x="116.3" dy="16" class="c">时间</tspan><tspan x="116.3" dy="16">Text</tspan><tspan x="116.3" dy="16">Text</tspan><tspan x="116.3" dy="16">Text</tspan><tspan x="116.3" dy="16">Text</tspan><tspan x="116.3" dy="16">Boolean</tspan></text>
<text x="192.3" y="36.6" class="u">&lt;M&gt;</text>
<text y="201.7"><tspan x="6.3">Identifier_1</tspan><tspan x="78">&lt;pi&gt;</tspan></text>
</svg>
<path class="sb" d="M0 21.8H285.5M0 185.8H285.5"/>
</g>

<g id="t_sys_authority" transform="translate(1648,1932)">
<rect class="bx kc" width="249" height="243"/>
<svg class="m" width="249" height="243">
<text class="tt" x="124.5" y="12.5"><tspan class="c">系统权限表（</tspan>SYS_AUTHORITY<tspan class="c">）</tspan></text>
<text y="32.7"><tspan x="7" class="u">ID</tspan><tspan x="7" dy="15" class="c">权限分组</tspan><tspan x="7" dy="15" class="c">权限名称</tspan><tspan x="7" dy="15" class="c">显示名称</tspan><tspan x="7" dy="15" class="c">创建者</tspan><tspan x="7" dy="15" class="c">创建时间</tspan><tspan x="7" dy="15" class="c">更新者</tspan><tspan x="7" dy="15" class="c">更新时间</tspan><tspan x="7" dy="15" class="c">备注</tspan><tspan x="7" dy="15" class="c">备注1</tspan><tspan x="7" dy="15" class="c">备注2</tspan><tspan x="7" dy="15" class="c">备注3</tspan><tspan x="7" dy="15" class="c">是否有效</tspan></text>
<text x="72" y="32.7" class="u">&lt;pi&gt;</text>
<text y="32.7"><tspan x="110.3" class="u">ZstuId</tspan><tspan x="110.3" dy="15">Varchar200</tspan><tspan x="110.3" dy="15">Varchar200</tspan><tspan x="110.3" dy="15">Varchar200</tspan><tspan x="110.3" dy="15">Varchar100</tspan><tspan x="110.3" dy="15" class="c">时间</tspan><tspan x="110.3" dy="15">Varchar100</tspan><tspan x="110.3" dy="15" class="c">时间</tspan><tspan x="110.3" dy="15">Text</tspan><tspan x="110.3" dy="15">Text</tspan><tspan x="110.3" dy="15">Text</tspan><tspan x="110.3" dy="15">Text</tspan><tspan x="110.3" dy="15">Boolean</tspan></text>
<text y="32.7"><tspan x="190.3" class="u">&lt;M&gt;</tspan><tspan x="190.3" dy="15">&lt;M&gt;</tspan><tspan x="190.3" dy="15">&lt;M&gt;</tspan><tspan x="190.3" dy="15">&lt;M&gt;</tspan></text>
<text y="233"><tspan x="7">Identifier_1</tspan><tspan x="100">&lt;pi&gt;</tspan></text>
</svg>
<path class="sc" d="M0 18H249M0 219.2H249"/>
</g>
</svg>
